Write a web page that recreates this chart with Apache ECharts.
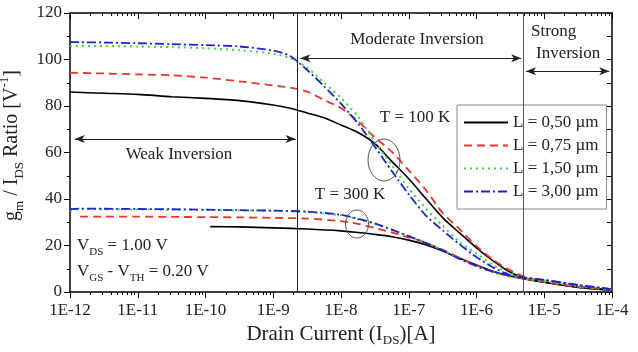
<!DOCTYPE html>
<html>
<head>
<meta charset="utf-8">
<script src="https://cdn.jsdelivr.net/npm/echarts@6/dist/echarts.min.js"></script>
<style>
  html, body { margin: 0; padding: 0; background: #fff; }
  #chart { width: 638px; height: 352px; }
</style>
</head>
<body>
<div id="chart"></div>
<script>
// x values are log10(I_DS / A)
const xTicks = [-12, -11, -10, -9, -8, -7, -6, -5, -4];
const names = ['L = 0,50 µm', 'L = 0,75 µm', 'L = 1,50 µm', 'L = 3,00 µm'];

// T = 100 K
const logI100 = [-12, -11.5, -11, -10.5, -10, -9.5, -9, -8.75, -8.5, -8.25, -8, -7.75, -7.5, -7.25, -7, -6.75, -6.5, -6.25, -6, -5.75, -5.5, -5.25, -5, -4.5, -4];
const gm100_050 = [86.0, 85.5, 85.0, 84.0, 83.3, 82.3, 80.4, 79.0, 77.0, 74.9, 71.8, 68.6, 63.8, 56.2, 48.7, 40.3, 32.0, 25.4, 19.0, 13.3, 8.5, 5.7, 4.2, 2.0, 0.8];
const gm100_075 = [94.3, 94.0, 93.6, 93.2, 92.2, 90.6, 88.8, 87.9, 86.2, 82.6, 79.1, 73.5, 66.5, 60.3, 52.3, 44.0, 34.0, 27.0, 19.7, 13.8, 9.3, 6.2, 4.4, 2.2, 0.9];
const gm100_150 = [105.9, 105.8, 105.6, 105.3, 104.8, 104.0, 102.5, 100.5, 96.5, 90.0, 83.5, 75.5, 64.5, 54.5, 44.5, 36.0, 28.5, 21.5, 16.5, 11.5, 8.0, 5.8, 4.4, 2.2, 0.9];
const gm100_300 = [107.5, 107.3, 107.0, 106.6, 106.2, 105.6, 103.8, 101.5, 95.5, 88.5, 81.0, 72.5, 62.5, 52.0, 42.0, 33.0, 26.5, 20.5, 15.0, 10.5, 7.3, 6.0, 5.2, 3.0, 1.2];

// T = 300 K
const logI300_050 = [-9.93, -9.5, -9, -8.5, -8, -7.75, -7.5, -7.25, -7, -6.75, -6.5, -6.25, -6, -5.75, -5.5, -5.25, -5, -4.5, -4];
const gm300_050 = [28.1, 28.0, 27.6, 27.1, 26.3, 25.6, 24.8, 23.8, 22.3, 20.3, 17.6, 14.5, 11.6, 8.8, 6.8, 5.4, 4.2, 2.1, 0.8];
const logI300_075 = [-11.85, -11.5, -11, -10.5, -10, -9.5, -9, -8.5, -8, -7.75, -7.5, -7.25, -7, -6.75, -6.5, -6.25, -6, -5.75, -5.5, -5.25, -5, -4.5, -4];
const gm300_075 = [32.4, 32.4, 32.4, 32.3, 32.2, 32.1, 31.9, 31.6, 30.5, 29.3, 27.5, 25.6, 23.5, 21.2, 18.2, 14.7, 11.5, 8.7, 6.8, 5.5, 4.4, 2.2, 0.9];
const logI300_hi = [-12, -11.85, -11.5, -11, -10.5, -10, -9.5, -9, -8.5, -8, -7.75, -7.5, -7.25, -7, -6.75, -6.5, -6.25, -6, -5.75, -5.5, -5.25, -5, -4.5, -4];
const gm300_150 = [35.0, 35.7, 35.6, 35.5, 35.4, 35.3, 35.1, 34.9, 34.4, 33.0, 31.3, 29.3, 26.7, 24.0, 21.2, 18.0, 14.2, 11.0, 8.3, 6.6, 5.6, 4.6, 2.4, 1.0];
const gm300_300 = [35.6, 35.9, 35.8, 35.7, 35.6, 35.4, 35.2, 35.0, 34.6, 33.2, 31.5, 29.5, 26.8, 24.0, 21.1, 17.8, 14.2, 11.2, 8.7, 7.0, 6.0, 5.2, 3.0, 1.2];

// region boundaries (log10 I) and arrows [x1, x2, y]
const regionBounds = [-8.64, -5.31];
const weakArrow = [-11.93, -8.67, 65.8];
const moderateArrow = [-8.6, -5.34, 100.5];
const strongArrow = [-5.27, -4.04, 95];

const FONT = 'Liberation Serif';
const colors = ['#000000', '#e8342c', '#3ad83a', '#2020d0'];
const dashes = ['solid', [8, 5], [2, 4], [9, 3, 2, 3]];
const widths = [1.6, 1.8, 2, 1.8];

const minorVals = [];
for (let n = -12; n < -4; n++) {
  for (let k = 2; k <= 9; k++) minorVals.push(n + Math.log10(k));
}

const zip = (xs, ys) => xs.map((x, i) => [x, ys[i]]);

function curve(idx, xs, ys) {
  return {
    name: names[idx],
    type: 'line',
    data: zip(xs, ys),
    symbol: 'circle',
    showSymbol: false,
    smooth: 0.25,
    color: colors[idx],
    lineStyle: {color: colors[idx], type: dashes[idx], width: widths[idx]},
    z: 3
  };
}

const chart = echarts.init(document.getElementById('chart'));

const sub = {fontFamily: FONT, fontSize: 13, verticalAlign: 'bottom', color: '#222'};
const sup = {fontFamily: FONT, fontSize: 13, verticalAlign: 'top', color: '#222'};

const xBase = {
  type: 'value', min: -12, max: -4, interval: 1, gridIndex: 0,
  splitLine: {show: false}
};

chart.setOption({
  animation: false,
  backgroundColor: '#fff',
  textStyle: {fontFamily: FONT},
  grid: {left: 70, right: 26, top: 13, bottom: 60, containLabel: false, outerBoundsMode: 'none'},
  legend: {
    data: names,
    orient: 'vertical',
    left: 457, top: 105,
    itemWidth: 44, itemHeight: 12, itemGap: 6,
    padding: [9, 8, 9, 6],
    backgroundColor: '#fff',
    borderColor: '#8a8a8a', borderWidth: 1,
    itemStyle: {opacity: 0},
    textStyle: {fontFamily: FONT, fontSize: 17, color: '#222'}
  },
  xAxis: [
    Object.assign({}, xBase, {
      position: 'bottom',
      name: '{n|Drain Current (I}{s|DS}{n|)[A]}',
      nameLocation: 'middle', nameGap: 29, nameMoveOverlap: false,
      nameTextStyle: {rich: {n: {fontFamily: FONT, fontSize: 21, color: '#222', lineHeight: 26}, s: sub}},
      axisLine: {lineStyle: {color: '#000', width: 1.5}},
      axisTick: {length: 6, lineStyle: {color: '#000'}},
      axisLabel: {
        fontFamily: FONT, fontSize: 17, color: '#222', margin: 10,
        formatter: v => xTicks.includes(v) ? '1E' + v : ''
      }
    }),
    Object.assign({}, xBase, {
      position: 'bottom',
      axisLine: {show: false},
      axisLabel: {show: false},
      axisTick: {length: 3, customValues: minorVals, lineStyle: {color: '#000'}}
    }),
    Object.assign({}, xBase, {
      position: 'top',
      axisLine: {lineStyle: {color: '#000', width: 1.5}},
      axisLabel: {show: false},
      axisTick: {inside: true, length: 6, lineStyle: {color: '#000'}}
    }),
    Object.assign({}, xBase, {
      position: 'top',
      axisLine: {show: false},
      axisLabel: {show: false},
      axisTick: {inside: true, length: 3, customValues: minorVals, lineStyle: {color: '#000'}}
    })
  ],
  yAxis: [
    {
      type: 'value', min: 0, max: 120, interval: 20, position: 'left',
      name: '{n|g}{s|m}{n| / I}{s|DS}{n| Ratio [V}{p|-1}{n|]}',
      nameLocation: 'middle', nameGap: 33,
      nameTextStyle: {padding: [0, 0, 0, 14], rich: {n: {fontFamily: FONT, fontSize: 20, color: '#222', lineHeight: 28}, s: sub, p: sup}},
      splitLine: {show: false},
      axisLine: {show: true, lineStyle: {color: '#000', width: 1.5}},
      axisTick: {show: true, length: 6, lineStyle: {color: '#000'}},
      minorTick: {show: true, splitNumber: 2, length: 3, lineStyle: {color: '#000'}},
      axisLabel: {fontFamily: FONT, fontSize: 17, color: '#222', margin: 8}
    },
    {
      type: 'value', min: 0, max: 120, interval: 10, position: 'right',
      splitLine: {show: false},
      axisLine: {show: true, lineStyle: {color: '#000', width: 1.5}},
      axisTick: {show: true, inside: true, length: 5, lineStyle: {color: '#000'}},
      axisLabel: {show: false}
    }
  ],
  series: [
    curve(0, logI100, gm100_050),
    curve(1, logI100, gm100_075),
    curve(2, logI100, gm100_150),
    curve(3, logI100, gm100_300),
    curve(0, logI300_050, gm300_050),
    curve(1, logI300_075, gm300_075),
    curve(2, logI300_hi, gm300_150),
    curve(3, logI300_hi, gm300_300),
    {
      name: 'regions',
      type: 'line',
      data: [],
      markLine: {
        silent: true,
        animation: false,
        label: {show: false},
        symbol: ['none', 'none'],
        lineStyle: {type: 'solid', width: 1, color: '#333'},
        data: [
          {xAxis: regionBounds[0], lineStyle: {color: '#222'}},
          {xAxis: regionBounds[1], lineStyle: {color: '#555'}},
          ...[weakArrow, moderateArrow, strongArrow].map(a => [
            {coord: [a[0], a[2]], symbol: 'arrow', symbolSize: [6, 10], lineStyle: {color: '#222'}},
            {coord: [a[1], a[2]], symbol: 'arrow', symbolSize: [6, 10]}
          ])
        ]
      }
    }
  ],
  graphic: [
    {type: 'text', x: 179, y: 155, style: {text: 'Weak Inversion', fontFamily: FONT, fontSize: 17, fill: '#222', align: 'center', verticalAlign: 'middle'}},
    {type: 'text', x: 417, y: 40, style: {text: 'Moderate Inversion', fontFamily: FONT, fontSize: 17, fill: '#222', align: 'center', verticalAlign: 'middle'}},
    {type: 'text', x: 531, y: 32, style: {text: 'Strong', fontFamily: FONT, fontSize: 17, fill: '#222', align: 'left', verticalAlign: 'middle'}},
    {type: 'text', x: 536, y: 54, style: {text: 'Inversion', fontFamily: FONT, fontSize: 17, fill: '#222', align: 'left', verticalAlign: 'middle'}},
    {type: 'text', x: 415, y: 118, style: {text: 'T = 100 K', fontFamily: FONT, fontSize: 17, fill: '#222', align: 'center', verticalAlign: 'middle'}},
    {type: 'text', x: 350, y: 195, style: {text: 'T = 300 K', fontFamily: FONT, fontSize: 17, fill: '#222', align: 'center', verticalAlign: 'middle'}},
    {type: 'text', x: 77, y: 246, style: {
      text: '{n|V}{s|DS}{n| = 1.00 V}', align: 'left', verticalAlign: 'middle',
      rich: {n: {fontFamily: FONT, fontSize: 17, fill: '#222', lineHeight: 24}, s: {fontFamily: FONT, fontSize: 11, fill: '#222', verticalAlign: 'bottom'}}
    }},
    {type: 'text', x: 77, y: 272, style: {
      text: '{n|V}{s|GS}{n| - V}{s|TH}{n| = 0.20 V}', align: 'left', verticalAlign: 'middle',
      rich: {n: {fontFamily: FONT, fontSize: 17, fill: '#222', lineHeight: 24}, s: {fontFamily: FONT, fontSize: 11, fill: '#222', verticalAlign: 'bottom'}}
    }},
    {type: 'ellipse', shape: {cx: 384, cy: 160, rx: 16, ry: 21}, style: {fill: 'none', stroke: '#555', lineWidth: 1}, z: 10},
    {type: 'ellipse', shape: {cx: 357, cy: 224, rx: 11.5, ry: 14}, style: {fill: 'none', stroke: '#555', lineWidth: 1}, z: 10}
  ]
});
</script>
</body>
</html>
